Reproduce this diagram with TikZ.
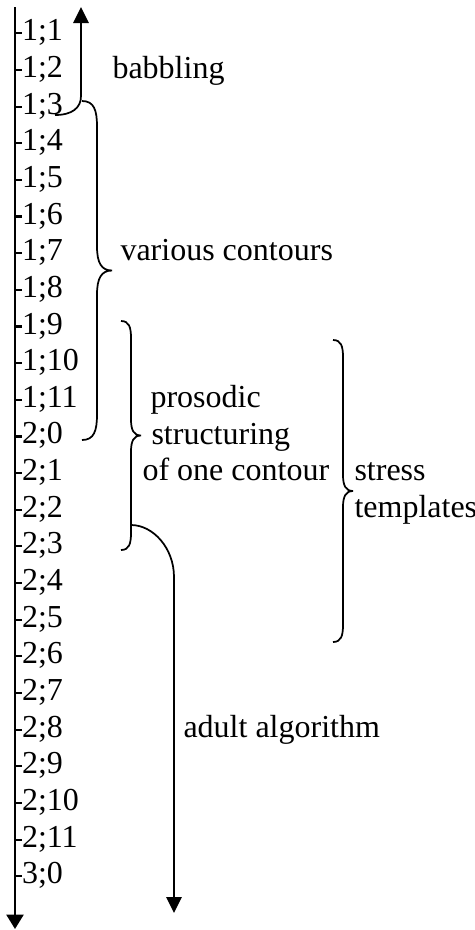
\documentclass[tikz,border=0pt]{standalone}
\usepackage{fontspec}
\setmainfont{Liberation Serif}
\usetikzlibrary{arrows.meta}

% one curly brace opening to the left: end x, top y, bottom y, half width
\newcommand{\wordbrace}[4]{%
  \draw[phasebrace] (#1,#2) .. controls ({#1+0.8*#4},#2) and ({#1+#4},{#2+0.6*#4}) .. ({#1+#4},{#2+1.7*#4})
    -- ({#1+#4},{(#2+#3)/2-1.6*#4})
    .. controls ({#1+#4},{(#2+#3)/2-0.5*#4}) and ({#1+1.3*#4},{(#2+#3)/2}) .. ({#1+2*#4},{(#2+#3)/2})
    .. controls ({#1+1.3*#4},{(#2+#3)/2}) and ({#1+#4},{(#2+#3)/2+0.5*#4}) .. ({#1+#4},{(#2+#3)/2+1.6*#4})
    -- ({#1+#4},{#3-1.7*#4}) .. controls ({#1+#4},{#3-0.6*#4}) and ({#1+0.8*#4},#3) .. (#1,#3);}

\tikzset{
  agetext/.style={inner sep=0pt, anchor=base west, font=\fontsize{12pt}{13.8pt}\selectfont},
  phasetext/.style={agetext},
  axis/.style={line width=0.8pt, -{Triangle[width=6.4pt,length=5.4pt]}},
  agetick/.style={line width=0.8pt},
  phasebrace/.style={line width=0.65pt},
  phasearrow/.style={line width=0.65pt, -{Triangle[width=5.8pt,length=6pt]}}
}

\begin{document}
\begin{tikzpicture}[x=0.375pt, y=-0.375pt]
  \useasboundingbox (0,0) rectangle (475,930);

  % time axis
  \coordinate (axis-top) at (15,7);
  \coordinate (axis-end) at (15,929);
  \draw[axis] (axis-top) -- (axis-end);

  \foreach \age [count=\i from 0] in {1;1,1;2,1;3,1;4,1;5,1;6,1;7,1;8,1;9,1;10,1;11,2;0,
                                      2;1,2;2,2;3,2;4,2;5,2;6,2;7,2;8,2;9,2;10,2;11,3;0} {
    \node[agetext] (m\i) at (21.5,{40.8+36.65*\i}) {\age};
    \draw[agetick] (m\i.base west) ++(0,-7.5) -- ++(-6.5,0);
  }

  % phases
  \node[phasetext] (babbling) at (112,78) {babbling};
  \node[phasetext] (various) at (120,260.7) {various contours};
  \node[phasetext] (pros1) at (150,407.3) {prosodic};
  \node[phasetext] (pros2) at (151,444) {structuring};
  \node[phasetext] (pros3) at (142,480.6) {of one contour};
  \node[phasetext] (stress1) at (354,480.6) {stress};
  \node[phasetext] (stress2) at (354,517.3) {templates};
  \node[phasetext] (adult) at (183,737.2) {adult algorithm};

  \coordinate (babble-hook) at (55,115);
  \coordinate (babble-tip) at (81,7);
  \draw[phasearrow] (babble-hook) .. controls (72,115) and (81,108) .. (81,96) -- (babble-tip);

  \wordbrace{82}{101}{440}{15}
  \wordbrace{121}{321}{550}{10}
  \wordbrace{333}{340}{642}{10}

  \coordinate (adult-start) at (131,525);
  \coordinate (adult-tip) at (174,913);
  \draw[phasearrow] (adult-start) .. controls (153,525) and (174,548) .. (174,577) -- (adult-tip);
\end{tikzpicture}
\end{document}
